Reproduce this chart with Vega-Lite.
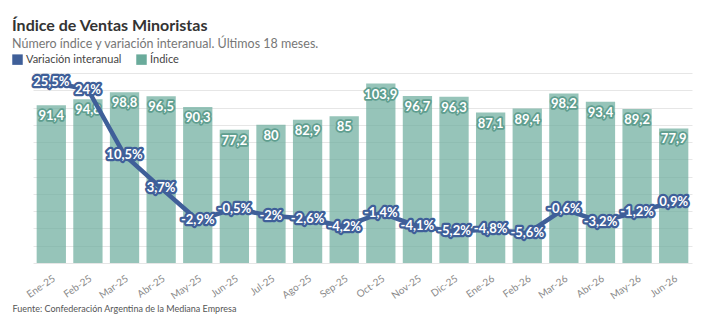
{
  "$schema": "https://vega.github.io/schema/vega-lite/v6.json",
  "width": 659,
  "height": 190,
  "autosize": "none",
  "padding": {"left": 33, "top": 73, "right": 14, "bottom": 68},
  "config": {
    "font": "Lato",
    "view": {"stroke": null},
    "locale": {"number": {"decimal": ",", "thousands": ".", "grouping": [3], "currency": ["$", ""], "minus": "-"}}
  },
  "title": {
    "text": "Índice de Ventas Minoristas",
    "subtitle": "Número índice y variación interanual. Últimos 18 meses.",
    "anchor": "start",
    "frame": "group",
    "dx": -21,
    "fontSize": 16,
    "fontWeight": "bold",
    "color": "#333333",
    "subtitleFontSize": 12.5,
    "subtitleColor": "#777777",
    "subtitlePadding": 4,
    "offset": 4
  },
  "data": {
    "values": [
      {"mes": "Ene-25", "indice": 91.4, "var": 0.255},
      {"mes": "Feb-25", "indice": 94.8, "var": 0.24},
      {"mes": "Mar-25", "indice": 98.8, "var": 0.105},
      {"mes": "Abr-25", "indice": 96.5, "var": 0.037},
      {"mes": "May-25", "indice": 90.3, "var": -0.029},
      {"mes": "Jun-25", "indice": 77.2, "var": -0.005},
      {"mes": "Jul-25", "indice": 80, "var": -0.02},
      {"mes": "Ago-25", "indice": 82.9, "var": -0.026},
      {"mes": "Sep-25", "indice": 85, "var": -0.042},
      {"mes": "Oct-25", "indice": 103.9, "var": -0.014},
      {"mes": "Nov-25", "indice": 96.7, "var": -0.041},
      {"mes": "Dic-25", "indice": 96.3, "var": -0.052},
      {"mes": "Ene-26", "indice": 87.1, "var": -0.048},
      {"mes": "Feb-26", "indice": 89.4, "var": -0.056},
      {"mes": "Mar-26", "indice": 98.2, "var": -0.006},
      {"mes": "Abr-26", "indice": 93.4, "var": -0.032},
      {"mes": "May-26", "indice": 89.2, "var": -0.012},
      {"mes": "Jun-26", "indice": 77.9, "var": 0.009}
    ]
  },
  "encoding": {
    "x": {
      "field": "mes",
      "type": "ordinal",
      "sort": null,
      "scale": {"paddingInner": 0.2, "paddingOuter": 0.1},
      "axis": {
        "labelAngle": -35,
        "labelColor": "#8a8a8a",
        "labelFontSize": 10,
        "domain": false,
        "ticks": false,
        "labelPadding": 10,
        "title": "Fuente: Confederación Argentina de la Mediana Empresa",
        "titleAnchor": "start",
        "titleX": -21,
        "titleY": 48,
        "titleBaseline": "alphabetic",
        "titleFontSize": 9,
        "titleFontWeight": "normal",
        "titleColor": "#555555"
      }
    }
  },
  "layer": [
    {
      "encoding": {
        "y": {
          "field": "indice",
          "type": "quantitative",
          "scale": {"domain": [0, 110], "nice": false, "zero": true},
          "axis": {
            "values": [0, 10, 20, 30, 40, 50, 60, 70, 80, 90, 100, 110],
            "labels": false,
            "ticks": false,
            "domain": false,
            "title": null,
            "gridColor": "#e6e6e6",
            "gridWidth": 1
          }
        }
      },
      "layer": [
        {
          "mark": {"type": "bar", "opacity": 0.7},
          "encoding": {
            "color": {
              "datum": "Índice",
              "type": "nominal",
              "scale": {"domain": ["Variación interanual", "Índice"], "range": ["#3f5f99", "#6aab9b"]},
              "legend": {
                "title": null,
                "orient": "none",
                "legendX": -21,
                "legendY": -19,
                "direction": "horizontal",
                "symbolType": "square",
                "symbolSize": 110,
                "symbolOpacity": 1,
                "symbolStrokeWidth": 0,
                "labelFontSize": 11,
                "labelColor": "#444444",
                "columnPadding": 14,
                "labelOffset": 3
              }
            }
          }
        },
        {
          "mark": {"type": "text", "fontSize": 13, "fontWeight": "bold", "baseline": "middle", "dy": 11, "stroke": "#5f9e8f", "strokeWidth": 3.5, "strokeJoin": "round", "fill": "#5f9e8f"},
          "encoding": {"text": {"field": "indice", "type": "quantitative", "format": ".1~f"}}
        },
        {
          "mark": {"type": "text", "fontSize": 13, "fontWeight": "bold", "baseline": "middle", "dy": 11, "fill": "#ffffff"},
          "encoding": {"text": {"field": "indice", "type": "quantitative", "format": ".1~f"}}
        }
      ]
    },
    {
      "encoding": {
        "y": {
          "field": "var",
          "type": "quantitative",
          "scale": {"domain": [-0.117, 0.274], "nice": false, "zero": false},
          "axis": null
        }
      },
      "layer": [
        {
          "mark": {"type": "line", "strokeWidth": 4.5, "strokeJoin": "round"},
          "encoding": {
            "color": {"datum": "Variación interanual", "type": "nominal"}
          }
        },
        {
          "mark": {"type": "text", "fontSize": 13, "fontWeight": "bold", "baseline": "middle", "stroke": "#3f5f99", "strokeWidth": 4.5, "strokeJoin": "round", "fill": "#3f5f99"},
          "encoding": {"text": {"field": "var", "type": "quantitative", "format": ".1~%"}}
        },
        {
          "mark": {"type": "text", "fontSize": 13, "fontWeight": "bold", "baseline": "middle", "fill": "#ffffff"},
          "encoding": {"text": {"field": "var", "type": "quantitative", "format": ".1~%"}}
        }
      ]
    }
  ],
  "resolve": {"scale": {"y": "independent"}}
}
